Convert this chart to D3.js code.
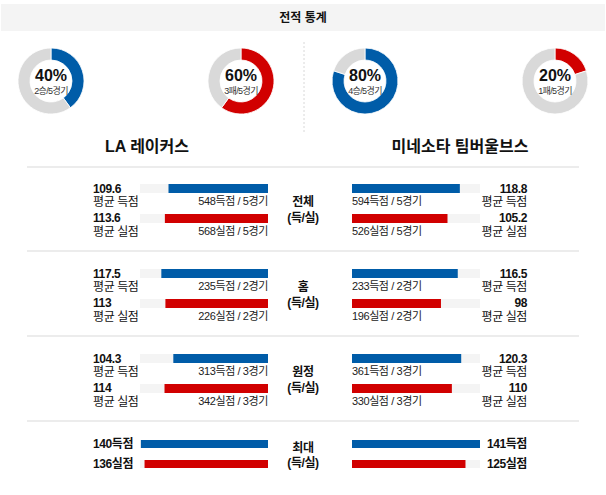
<!DOCTYPE html>
<html><head><meta charset="utf-8">
<script src="https://cdn.jsdelivr.net/npm/d3@7"></script>
<style>
body{margin:0;background:#fff;}
svg{display:block;font-family:"Liberation Sans","Noto Sans CJK KR",sans-serif;}
</style></head>
<body>
<svg id="c" width="606" height="495"></svg>
<script>
const title = "전적 통계";
const teams = ["LA 레이커스", "미네소타 팀버울브스"];
const donutPct = [40, 60, 80, 20];
const donutSub = ["2승/5경기", "3패/5경기", "4승/5경기", "1패/5경기"];
const donutKind = ["win", "loss", "win", "loss"];
const sections = ["전체", "홈", "원정"];
const games = [5, 2, 3];
const laAvgFor = [109.6, 117.5, 104.3];
const laAvgAgainst = [113.6, 113, 114];
const laTotFor = [548, 235, 313];
const laTotAgainst = [568, 226, 342];
const minAvgFor = [118.8, 116.5, 120.3];
const minAvgAgainst = [105.2, 98, 110];
const minTotFor = [594, 233, 361];
const minTotAgainst = [526, 196, 330];
const maxLabel = "최대";
const laMax = [140, 136];
const minMax = [141, 125];

const BLUE = "#005ca8", RED = "#d10000", RING = "#d9d9d9", BG = "#f4f4f4";
const svg = d3.select("#c");

// header
svg.append("rect").attr("x",1).attr("y",4).attr("width",604).attr("height",27).attr("fill","#f4f4f4");
svg.append("text").attr("x",303).attr("y",22).attr("text-anchor","middle")
  .attr("font-size",12).attr("font-weight","bold").attr("fill","#111").text(title);

// divider dotted
svg.append("line").attr("x1",304).attr("x2",304).attr("y1",42).attr("y2",132)
  .attr("stroke","#d8d8d8").attr("stroke-dasharray","2,2");

// donuts
const donutX = [51, 241, 365, 555];
const pie = d3.pie().sort(null).value(d=>d);
const arc = d3.arc().innerRadius(21).outerRadius(33);
donutPct.forEach((p,i)=>{
  const g = svg.append("g").attr("transform",`translate(${donutX[i]},81)`);
  const col = donutKind[i]==="win" ? BLUE : RED;
  g.selectAll("path").data(pie([p, 100-p])).join("path")
    .attr("d", arc).attr("fill",(d,j)=> j===0 ? col : RING)
    .attr("stroke","#fff").attr("stroke-width",0.8);
  g.append("text").attr("y",0).attr("text-anchor","middle").attr("font-size",16)
    .attr("font-weight","bold").attr("fill","#111").text(p+"%");
  g.append("text").attr("y",12.5).attr("text-anchor","middle").attr("font-size",9)
    .attr("fill","#333").attr("letter-spacing",-0.6).text(donutSub[i]);
});

// team names
[147, 460].forEach((x,i)=>{
  svg.append("text").attr("x",x).attr("y",152).attr("text-anchor","middle")
    .attr("font-size",16).attr("font-weight","bold").attr("fill","#111").text(teams[i]);
});

// separators
[167, 251, 336, 421].forEach(y=>{
  svg.append("line").attr("x1",27).attr("x2",579).attr("y1",y).attr("y2",y)
    .attr("stroke","#e6e6e6").attr("stroke-width",1.5);
});

const w = d3.scaleLinear().domain([0,141]).range([0,128]);
const LEND = 268, RSTART = 352, BW = 128;

function bar(y, val, side, color, h){
  if(side==="L"){
    svg.append("rect").attr("x",LEND-BW).attr("y",y).attr("width",BW).attr("height",h).attr("fill",BG);
    svg.append("rect").attr("x",LEND-w(val)).attr("y",y).attr("width",w(val)).attr("height",h).attr("fill",color);
  } else {
    svg.append("rect").attr("x",RSTART).attr("y",y).attr("width",BW).attr("height",h).attr("fill",BG);
    svg.append("rect").attr("x",RSTART).attr("y",y).attr("width",w(val)).attr("height",h).attr("fill",color);
  }
}
function txt(x,y,s,anchor,size,bold,fill){
  svg.append("text").attr("x",x).attr("y",y).attr("text-anchor",anchor).attr("font-size",size)
    .attr("font-weight",bold?"bold":"normal").attr("fill",fill||"#111")
    .attr("letter-spacing",-0.4).text(s);
}

sections.forEach((s,i)=>{
  const b = 184 + 85*i;
  bar(b, laAvgFor[i], "L", BLUE, 9);
  bar(b+30, laAvgAgainst[i], "L", RED, 9);
  bar(b, minAvgFor[i], "R", BLUE, 9);
  bar(b+30, minAvgAgainst[i], "R", RED, 9);
  // left labels
  txt(93, b+9, String(laAvgFor[i]), "start", 12, true);
  txt(93, b+22, "평균 득점", "start", 12, false);
  txt(93, b+38, String(laAvgAgainst[i]), "start", 12, true);
  txt(93, b+51.5, "평균 실점", "start", 12, false);
  txt(LEND, b+21, `${laTotFor[i]}득점 / ${games[i]}경기`, "end", 11, false, "#222");
  txt(LEND, b+51, `${laTotAgainst[i]}실점 / ${games[i]}경기`, "end", 11, false, "#222");
  // right labels
  txt(527, b+9, String(minAvgFor[i]), "end", 12, true);
  txt(527, b+22, "평균 득점", "end", 12, false);
  txt(527, b+38, String(minAvgAgainst[i]), "end", 12, true);
  txt(527, b+51.5, "평균 실점", "end", 12, false);
  txt(RSTART, b+21, `${minTotFor[i]}득점 / ${games[i]}경기`, "start", 11, false, "#222");
  txt(RSTART, b+51, `${minTotAgainst[i]}실점 / ${games[i]}경기`, "start", 11, false, "#222");
  // center
  txt(303, b+22, s, "middle", 12, true);
  txt(303, b+38, "(득/실)", "middle", 12, true);
});

// max section
const mb = 440;
bar(mb, laMax[0], "L", BLUE, 8);
bar(mb+20, laMax[1], "L", RED, 8);
bar(mb, minMax[0], "R", BLUE, 8);
bar(mb+20, minMax[1], "R", RED, 8);
txt(93, mb+8, laMax[0]+"득점", "start", 12, true);
txt(93, mb+28, laMax[1]+"실점", "start", 12, true);
txt(527, mb+8, minMax[0]+"득점", "end", 12, true);
txt(527, mb+28, minMax[1]+"실점", "end", 12, true);
txt(303, mb+12, maxLabel, "middle", 12, true);
txt(303, mb+27, "(득/실)", "middle", 12, true);
</script>
</body></html>
